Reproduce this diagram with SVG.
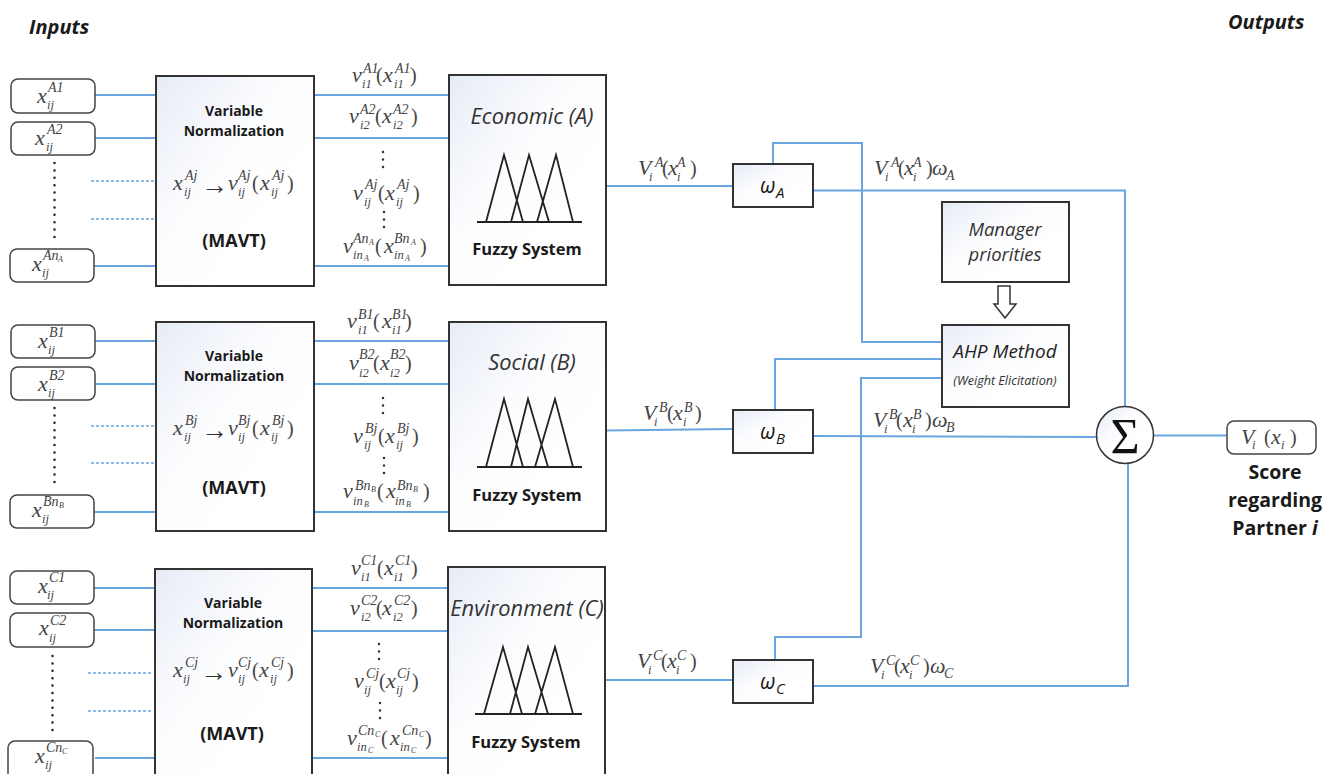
<svg xmlns="http://www.w3.org/2000/svg" width="1322" height="774" viewBox="0 0 1322 774">
<style>
.b{fill:url(#g);stroke:#333;stroke-width:2}
.r{fill:#fff;stroke:#444;stroke-width:1.5}
.c{fill:none;stroke:#69a5e0;stroke-width:2}
.da{fill:none;stroke:#69a5e0;stroke-width:1.5;stroke-dasharray:3 2}
.dt{fill:none;stroke:#222;stroke-width:2.5;stroke-linecap:round;stroke-dasharray:0 7.4}
.dm{fill:none;stroke:#333;stroke-width:2.5;stroke-linecap:round;stroke-dasharray:0 7.5}
.t{fill:none;stroke:#222;stroke-width:1.8}
text{font-family:"Open Sans","Liberation Sans",sans-serif;fill:#1a1a1a}
.h{font-size:14px;font-weight:700;text-anchor:middle}
.mv{font-size:18px;font-weight:700;text-anchor:middle}
.f{font-size:16.500px;font-weight:700;text-anchor:middle}
.e{font-size:21.800px;font-style:italic;text-anchor:middle;fill:#333}
.io{font-size:20px;font-weight:700;font-style:italic}
.sc{font-size:19.500px;font-weight:700;text-anchor:middle}
.o{font-size:21px;font-style:italic}
.os{font-size:15px;font-style:italic}
.mg{font-size:18.500px;font-style:italic;text-anchor:middle;fill:#333}
.ah{font-size:19px;font-style:italic;text-anchor:middle;fill:#222}
.w{font-size:12.600px;font-style:italic;text-anchor:middle;fill:#333}
.m{font-family:"Liberation Serif",serif;font-size:22px;font-style:italic;fill:#444}
.M{font-family:"Liberation Serif",serif;font-size:20px;fill:#444}
.u{font-size:14px}
.d{font-size:12.500px}
.uu{font-size:8px}
.ar{font-family:"Liberation Serif",serif;font-size:27px;fill:#333}
</style>
<defs>
<linearGradient id="g" x1="0" y1="0" x2="0.7" y2="0.7"><stop offset="0" stop-color="#e6ebf5"/><stop offset="0.55" stop-color="#fbfcfe"/><stop offset="1" stop-color="#fff"/></linearGradient>
</defs>

<g id="connectors">
<path class="c" d="M95 95H156M95 138H156M94 266H156M314 95H449M314 138H449M314 266H449M606 186H733"/>
<path class="da" d="M91 181H155M91 219H155"/>
<path class="dt" d="M54.500 163V241"/>
<path class="c" d="M95 341H156M95 384H156M94 512H156M314 341H449M314 384H449M314 512H449M606 430.500L733 429"/>
<path class="da" d="M91 426H155M91 463H155"/>
<path class="dt" d="M54.500 408V487"/>
<path class="c" d="M94 588H155M94 630H155M95 758H155M312 588H448M312 631H448M312 758H448M605 680H733"/>
<path class="da" d="M88 673H153M88 711H153"/>
<path class="dt" d="M52.500 656V733"/>
<path class="c" d="M773 164V143H862V342H943M813 190.500H1125V407"/>
<path class="c" d="M775 410V359H943M813 436L1096 437"/>
<path class="c" d="M775 660V637H861V378H943M813 686H1128V464M1154 435.500H1227"/>
</g>

<g id="input-a1"><rect class="r" x="11" y="79" width="84" height="34" rx="7"/><text class="m" x="37" y="103">x<tspan class="u" x="48" y="92">A1</tspan><tspan class="d" x="47" y="109">ij</tspan></text></g>
<g id="input-a2"><rect class="r" x="11" y="122" width="84" height="33" rx="7"/><text class="m" x="35" y="145">x<tspan class="u" x="47" y="134">A2</tspan><tspan class="d" x="46" y="151">ij</tspan></text></g>
<g id="input-an"><rect class="r" x="10" y="249" width="84" height="33" rx="7"/><text class="m" x="32" y="271">x<tspan class="u" x="43" y="260">An</tspan><tspan class="uu" x="58" y="262">A</tspan><tspan class="d" x="42" y="277">ij</tspan></text></g>

<g id="norm-a"><rect class="b" x="156" y="76" width="158" height="210"/>
<text class="h" x="234" y="116">Variable</text><text class="h" x="234" y="136">Normalization</text>
<text class="m" x="173" y="190">x<tspan class="u" x="185" y="180">Aj</tspan><tspan class="d" x="184" y="196">ij</tspan></text><text class="ar" x="201" y="194">→</text>
<text class="m" x="228" y="190">v<tspan class="u" x="238" y="180">Aj</tspan><tspan class="d" x="238" y="196">ij</tspan></text><text class="M" x="252" y="190">(</text>
<text class="m" x="260" y="190">x<tspan class="u" x="272" y="180">Aj</tspan><tspan class="d" x="271" y="196">ij</tspan></text><text class="M" x="287" y="190">)</text>
<text class="mv" x="234" y="247">(MAVT)</text></g>

<g id="labels-a">
<text class="m" x="352" y="82">v<tspan class="u" x="363" y="73">A1</tspan><tspan class="d" x="362" y="88">i1</tspan></text><text class="M" x="376" y="82">(</text><text class="m" x="383" y="82">x<tspan class="u" x="395" y="73">A1</tspan><tspan class="d" x="394" y="88">i1</tspan></text><text class="M" x="410" y="82">)</text>
<text class="m" x="349" y="123">v<tspan class="u" x="360" y="114">A2</tspan><tspan class="d" x="360" y="129">i2</tspan></text><text class="M" x="375" y="123">(</text><text class="m" x="382" y="123">x<tspan class="u" x="393" y="114">A2</tspan><tspan class="d" x="393" y="129">i2</tspan></text><text class="M" x="411" y="123">)</text>
<path class="dm" d="M383 152V168"/>
<text class="m" x="353" y="200">v<tspan class="u" x="365" y="189">Aj</tspan><tspan class="d" x="364" y="206">ij</tspan></text><text class="M" x="378" y="200">(</text><text class="m" x="385" y="200">x<tspan class="u" x="397" y="189">Aj</tspan><tspan class="d" x="396" y="206">ij</tspan></text><text class="M" x="413" y="200">)</text>
<path class="dm" d="M384 212V228"/>
<text class="m" x="343" y="253">v<tspan class="u" x="353" y="243">An</tspan><tspan class="uu" x="369" y="245">A</tspan><tspan class="d" x="353" y="259">in</tspan><tspan class="uu" x="364" y="261">A</tspan></text><text class="M" x="375" y="253">(</text><text class="m" x="384" y="253">x<tspan class="u" x="394" y="243">Bn</tspan><tspan class="uu" x="411" y="245">A</tspan><tspan class="d" x="394" y="259">in</tspan><tspan class="uu" x="405" y="261">A</tspan></text><text class="M" x="420" y="253">)</text>
</g>

<g id="fuzzy-a"><rect class="b" x="449" y="75" width="157" height="210"/><text class="e" x="532" y="124">Economic (A)</text>
<path class="t" d="M477 222H582M486 222L504 155L523 222M511 222L529 155L549 222M537 222L556 155L573 222"/><text class="f" x="527" y="255">Fuzzy System</text></g>

<g id="input-b1"><rect class="r" x="11" y="325" width="84" height="33" rx="7"/><text class="m" x="38" y="348">x<tspan class="u" x="49" y="337">B1</tspan><tspan class="d" x="48" y="354">ij</tspan></text></g>
<g id="input-b2"><rect class="r" x="11" y="367" width="84" height="33" rx="7"/><text class="m" x="38" y="391">x<tspan class="u" x="49" y="380">B2</tspan><tspan class="d" x="48" y="397">ij</tspan></text></g>
<g id="input-bn"><rect class="r" x="10" y="495" width="84" height="33" rx="7"/><text class="m" x="32" y="517">x<tspan class="u" x="43" y="506">Bn</tspan><tspan class="uu" x="59" y="508">B</tspan><tspan class="d" x="42" y="523">ij</tspan></text></g>

<g id="norm-b"><rect class="b" x="156" y="322" width="158" height="209"/>
<text class="h" x="234" y="361">Variable</text><text class="h" x="234" y="381">Normalization</text>
<text class="m" x="173" y="435">x<tspan class="u" x="185" y="425">Bj</tspan><tspan class="d" x="184" y="441">ij</tspan></text><text class="ar" x="201" y="439">→</text>
<text class="m" x="228" y="435">v<tspan class="u" x="238" y="425">Bj</tspan><tspan class="d" x="238" y="441">ij</tspan></text><text class="M" x="252" y="435">(</text>
<text class="m" x="260" y="435">x<tspan class="u" x="272" y="425">Bj</tspan><tspan class="d" x="271" y="441">ij</tspan></text><text class="M" x="287" y="435">)</text>
<text class="mv" x="234" y="494">(MAVT)</text></g>

<g id="labels-b">
<text class="m" x="347" y="328">v<tspan class="u" x="358" y="319">B1</tspan><tspan class="d" x="358" y="334">i1</tspan></text><text class="M" x="373" y="328">(</text><text class="m" x="382" y="328">x<tspan class="u" x="392" y="319">B1</tspan><tspan class="d" x="392" y="334">i1</tspan></text><text class="M" x="405" y="328">)</text>
<text class="m" x="349" y="370">v<tspan class="u" x="359" y="359">B2</tspan><tspan class="d" x="359" y="377">i2</tspan></text><text class="M" x="373" y="370">(</text><text class="m" x="380" y="370">x<tspan class="u" x="390" y="359">B2</tspan><tspan class="d" x="390" y="377">i2</tspan></text><text class="M" x="405" y="370">)</text>
<path class="dm" d="M383 398V414"/>
<text class="m" x="353" y="443">v<tspan class="u" x="365" y="433">Bj</tspan><tspan class="d" x="364" y="449">ij</tspan></text><text class="M" x="378" y="443">(</text><text class="m" x="385" y="443">x<tspan class="u" x="397" y="433">Bj</tspan><tspan class="d" x="396" y="449">ij</tspan></text><text class="M" x="412" y="443">)</text>
<path class="dm" d="M384 458V474"/>
<text class="m" x="343" y="498">v<tspan class="u" x="355" y="490">Bn</tspan><tspan class="uu" x="371" y="492">B</tspan><tspan class="d" x="353" y="505">in</tspan><tspan class="uu" x="364" y="507">B</tspan></text><text class="M" x="377" y="498">(</text><text class="m" x="386" y="498">x<tspan class="u" x="397" y="490">Bn</tspan><tspan class="uu" x="413" y="492">B</tspan><tspan class="d" x="395" y="505">in</tspan><tspan class="uu" x="406" y="507">B</tspan></text><text class="M" x="423" y="498">)</text>
</g>

<g id="fuzzy-b"><rect class="b" x="449" y="322" width="157" height="209"/><text class="e" x="532" y="370">Social (B)</text>
<path class="t" d="M477 467H582M486 467L504 399L523 467M511 467L528 399L548 467M535 467L555 399L573 467"/><text class="f" x="527" y="501">Fuzzy System</text></g>

<g id="input-c1"><rect class="r" x="10" y="571" width="84" height="33" rx="7"/><text class="m" x="38" y="593">x<tspan class="u" x="49" y="582">C1</tspan><tspan class="d" x="47" y="599">ij</tspan></text></g>
<g id="input-c2"><rect class="r" x="10" y="613" width="84" height="34" rx="7"/><text class="m" x="39" y="635">x<tspan class="u" x="50" y="625">C2</tspan><tspan class="d" x="49" y="642">ij</tspan></text></g>
<g id="input-cn"><rect class="r" x="8" y="741" width="85" height="40" rx="7"/><text class="m" x="35" y="763">x<tspan class="u" x="46" y="752">Cn</tspan><tspan class="uu" x="62" y="754">C</tspan><tspan class="d" x="45" y="769">ij</tspan></text></g>

<g id="norm-c"><rect class="b" x="155" y="569" width="157" height="215"/>
<text class="h" x="233" y="608">Variable</text><text class="h" x="233" y="628">Normalization</text>
<text class="m" x="173" y="677">x<tspan class="u" x="185" y="667">Cj</tspan><tspan class="d" x="183" y="683">ij</tspan></text><text class="ar" x="200" y="681">→</text>
<text class="m" x="228" y="677">v<tspan class="u" x="238" y="667">Cj</tspan><tspan class="d" x="238" y="683">ij</tspan></text><text class="M" x="252" y="677">(</text>
<text class="m" x="259" y="677">x<tspan class="u" x="271" y="667">Cj</tspan><tspan class="d" x="270" y="683">ij</tspan></text><text class="M" x="287" y="677">)</text>
<text class="mv" x="232" y="740">(MAVT)</text></g>

<g id="labels-c">
<text class="m" x="351" y="575">v<tspan class="u" x="361" y="565">C1</tspan><tspan class="d" x="361" y="581">i1</tspan></text><text class="M" x="377" y="575">(</text><text class="m" x="384" y="575">x<tspan class="u" x="395" y="565">C1</tspan><tspan class="d" x="394" y="581">i1</tspan></text><text class="M" x="411" y="575">)</text>
<text class="m" x="350" y="615">v<tspan class="u" x="361" y="605">C2</tspan><tspan class="d" x="361" y="621">i2</tspan></text><text class="M" x="376" y="615">(</text><text class="m" x="382" y="615">x<tspan class="u" x="394" y="605">C2</tspan><tspan class="d" x="393" y="621">i2</tspan></text><text class="M" x="411" y="615">)</text>
<path class="dm" d="M379 644V660"/>
<text class="m" x="354" y="688">v<tspan class="u" x="366" y="678">Cj</tspan><tspan class="d" x="364" y="694">ij</tspan></text><text class="M" x="379" y="688">(</text><text class="m" x="386" y="688">x<tspan class="u" x="397" y="678">Cj</tspan><tspan class="d" x="396" y="694">ij</tspan></text><text class="M" x="412" y="688">)</text>
<path class="dm" d="M380 703V719"/>
<text class="m" x="347" y="745">v<tspan class="u" x="358" y="735">Cn</tspan><tspan class="uu" x="375" y="737">C</tspan><tspan class="d" x="357" y="751">in</tspan><tspan class="uu" x="368" y="753">C</tspan></text><text class="M" x="381" y="745">(</text><text class="m" x="390" y="745">x<tspan class="u" x="402" y="735">Cn</tspan><tspan class="uu" x="419" y="737">C</tspan><tspan class="d" x="400" y="751">in</tspan><tspan class="uu" x="411" y="753">C</tspan></text><text class="M" x="425" y="745">)</text>
</g>

<g id="fuzzy-c"><rect class="b" x="448" y="567" width="157" height="215"/><text class="e" x="527" y="616">Environment (C)</text>
<path class="t" d="M475 714H582M484 714L503 647L522 714M510 714L528 647L548 714M535 714L555 647L573 714"/><text class="f" x="526" y="748">Fuzzy System</text></g>

<g id="weight-a"><rect class="b" x="733" y="164" width="80" height="43"/><text class="o" x="760" y="193">ω</text><text class="os" x="776" y="198">A</text></g>
<g id="weight-b"><rect class="b" x="733" y="410" width="80" height="43"/><text class="o" x="760" y="439">ω</text><text class="os" x="776" y="444">B</text></g>
<g id="weight-c"><rect class="b" x="733" y="660" width="80" height="43"/><text class="o" x="760" y="689">ω</text><text class="os" x="776" y="694">C</text></g>

<g id="score-labels">
<text class="m" x="638" y="175">V<tspan class="u" x="655" y="167">A</tspan><tspan class="d" x="649" y="181">i</tspan></text><text class="M" x="662" y="175">(</text><text class="m" x="668" y="175">x<tspan class="u" x="677" y="167">A</tspan><tspan class="d" x="677" y="181">i</tspan></text><text class="M" x="690" y="175">)</text>
<text class="m" x="874" y="175">V<tspan class="u" x="891" y="167">A</tspan><tspan class="d" x="885" y="181">i</tspan></text><text class="M" x="898" y="175">(</text><text class="m" x="904" y="175">x<tspan class="u" x="913" y="167">A</tspan><tspan class="d" x="913" y="181">i</tspan></text><text class="M" x="926" y="175">)</text><text class="m" x="932" y="175">ω<tspan class="u" x="946" y="180">A</tspan></text>
<text class="m" x="643" y="420">V<tspan class="u" x="659" y="412">B</tspan><tspan class="d" x="654" y="426">i</tspan></text><text class="M" x="667" y="420">(</text><text class="m" x="673" y="420">x<tspan class="u" x="684" y="412">B</tspan><tspan class="d" x="683" y="426">i</tspan></text><text class="M" x="695" y="420">)</text>
<text class="m" x="873" y="427">V<tspan class="u" x="889" y="419">B</tspan><tspan class="d" x="884" y="433">i</tspan></text><text class="M" x="896" y="427">(</text><text class="m" x="903" y="427">x<tspan class="u" x="913" y="419">B</tspan><tspan class="d" x="912" y="433">i</tspan></text><text class="M" x="925" y="427">)</text><text class="m" x="932" y="427">ω<tspan class="u" x="946" y="432">B</tspan></text>
<text class="m" x="637" y="668">V<tspan class="u" x="653" y="660">C</tspan><tspan class="d" x="648" y="674">i</tspan></text><text class="M" x="661" y="668">(</text><text class="m" x="667" y="668">x<tspan class="u" x="677" y="660">C</tspan><tspan class="d" x="676" y="674">i</tspan></text><text class="M" x="690" y="668">)</text>
<text class="m" x="870" y="673">V<tspan class="u" x="886" y="665">C</tspan><tspan class="d" x="881" y="679">i</tspan></text><text class="M" x="894" y="673">(</text><text class="m" x="900" y="673">x<tspan class="u" x="910" y="665">C</tspan><tspan class="d" x="909" y="679">i</tspan></text><text class="M" x="923" y="673">)</text><text class="m" x="930" y="673">ω<tspan class="u" x="944" y="678">C</tspan></text>
</g>

<g id="manager"><rect class="b" x="942" y="202" width="127" height="80"/><text class="mg" x="1005" y="236">Manager</text><text class="mg" x="1005" y="261">priorities</text></g>
<path id="priority-arrow" d="M998 286H1010V304H1016L1005 318L994 304H998Z" fill="#fff" stroke="#333" stroke-width="1.500"/>
<g id="ahp"><rect class="b" x="942" y="325" width="127" height="82"/><text class="ah" x="1005" y="358">AHP Method</text><text class="w" x="1005" y="385">(Weight Elicitation)</text></g>

<g id="sum"><circle cx="1125" cy="435" r="28.500" fill="url(#g)" stroke="#333" stroke-width="1.500"/><text x="1125" y="453" style="font-family:'Liberation Serif',serif;font-size:50px;text-anchor:middle;fill:#111">Σ</text></g>
<g id="output"><rect class="r" x="1227" y="421" width="89" height="33" rx="7"/><text class="m" x="1241" y="444">V<tspan class="d" x="1252" y="449">i</tspan></text><text class="M" x="1264" y="444">(</text><text class="m" x="1271" y="444">x<tspan class="d" x="1281" y="449">i</tspan></text><text class="M" x="1290" y="444">)</text></g>
<text class="sc" x="1275" y="479">Score</text>
<text class="sc" x="1275" y="507">regarding</text>
<text class="sc" x="1275" y="535">Partner <tspan font-style="italic">i</tspan></text>
<text class="io" x="29" y="34">Inputs</text>
<text class="io" x="1228" y="29">Outputs</text>
</svg>
